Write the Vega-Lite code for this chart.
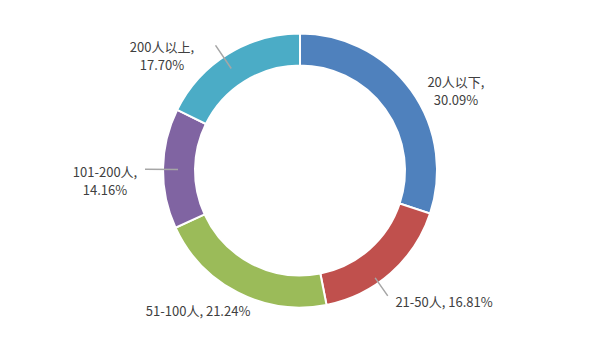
{
  "$schema": "https://vega.github.io/schema/vega-lite/v6.json",
  "width": 600,
  "height": 359,
  "autosize": {"type": "fit", "contains": "padding"},
  "padding": 0,
  "background": "white",
  "config": {"view": {"stroke": null}},
  "data": {
    "values": [
      {"idx": 1, "cat": "20人以下", "pct": 30.09, "label": "20人以下,\n30.09%"},
      {"idx": 2, "cat": "21-50人", "pct": 16.81, "label": "21-50人, 16.81%"},
      {"idx": 3, "cat": "51-100人", "pct": 21.24, "label": "51-100人, 21.24%"},
      {"idx": 4, "cat": "101-200人", "pct": 14.16, "label": "101-200人,\n14.16%"},
      {"idx": 5, "cat": "200人以上", "pct": 17.70, "label": "200人以上,\n17.70%"}
    ]
  },
  "encoding": {
    "theta": {"field": "pct", "type": "quantitative", "stack": true},
    "order": {"field": "idx", "type": "quantitative"},
    "detail": {"field": "cat", "type": "nominal"}
  },
  "layer": [
    {
      "mark": {"type": "arc", "innerRadius": 105, "outerRadius": 137, "stroke": "white", "strokeWidth": 2},
      "encoding": {
        "color": {
          "field": "cat", "type": "nominal", "legend": null,
          "scale": {
            "domain": ["20人以下", "21-50人", "51-100人", "101-200人", "200人以上"],
            "range": ["#4F81BD", "#C0504D", "#9BBB59", "#8064A2", "#4BACC6"]
          }
        }
      }
    },
    {
      "transform": [{"stack": "pct", "groupby": [], "sort": [{"field": "idx", "order": "ascending"}], "as": ["s0", "s1"]}],
      "mark": {"type": "arc", "innerRadius": 122, "outerRadius": 155, "fill": null, "stroke": "#A6A6A6", "strokeWidth": 1.5, "thetaOffset": -0.44995, "theta2Offset": -0.44995},
      "encoding": {
        "theta": {"field": "s1", "type": "quantitative"},
        "theta2": {"field": "s1"},
        "opacity": {"condition": {"test": "datum.cat === '101-200人'", "value": 1}, "value": 0}
      }
    },
    {
      "transform": [{"stack": "pct", "groupby": [], "sort": [{"field": "idx", "order": "ascending"}], "as": ["s0", "s1"]}],
      "mark": {"type": "arc", "innerRadius": 123, "outerRadius": 151, "fill": null, "stroke": "#A6A6A6", "strokeWidth": 1.5, "thetaOffset": -0.59341, "theta2Offset": -0.59341},
      "encoding": {
        "theta": {"field": "s1", "type": "quantitative"},
        "theta2": {"field": "s1"},
        "opacity": {"condition": {"test": "datum.cat === '200人以上'", "value": 1}, "value": 0}
      }
    },
    {
      "transform": [{"stack": "pct", "groupby": [], "sort": [{"field": "idx", "order": "ascending"}], "as": ["s0", "s1"]}],
      "mark": {"type": "arc", "innerRadius": 131, "outerRadius": 153, "fill": null, "stroke": "#A6A6A6", "strokeWidth": 1.5, "thetaOffset": -0.41609, "theta2Offset": -0.41609},
      "encoding": {
        "theta": {"field": "s1", "type": "quantitative"},
        "theta2": {"field": "s1"},
        "opacity": {"condition": {"test": "datum.cat === '21-50人'", "value": 1}, "value": 0}
      }
    },
    {
      "mark": {"type": "text", "radius": 180, "dx": 10, "dy": 18, "font": "Noto Sans CJK SC", "fontSize": 13, "fill": "#404040", "lineBreak": "\n", "lineHeight": 18, "align": "center", "baseline": "middle"},
      "encoding": {"text": {"condition": {"test": "datum.cat === '20人以下'", "field": "label"}, "value": ""}}
    },
    {
      "mark": {"type": "text", "radius": 180, "dx": 25, "dy": -2, "font": "Noto Sans CJK SC", "fontSize": 13, "fill": "#404040", "lineBreak": "\n", "lineHeight": 18, "align": "center", "baseline": "middle"},
      "encoding": {"text": {"condition": {"test": "datum.cat === '21-50人'", "field": "label"}, "value": ""}}
    },
    {
      "mark": {"type": "text", "radius": 180, "dx": -20, "dy": -19, "font": "Noto Sans CJK SC", "fontSize": 13, "fill": "#404040", "lineBreak": "\n", "lineHeight": 18, "align": "center", "baseline": "middle"},
      "encoding": {"text": {"condition": {"test": "datum.cat === '51-100人'", "field": "label"}, "value": ""}}
    },
    {
      "mark": {"type": "text", "radius": 180, "dx": -15, "dy": 5, "font": "Noto Sans CJK SC", "fontSize": 13, "fill": "#404040", "lineBreak": "\n", "lineHeight": 18, "align": "center", "baseline": "middle"},
      "encoding": {"text": {"condition": {"test": "datum.cat === '101-200人'", "field": "label"}, "value": ""}}
    },
    {
      "mark": {"type": "text", "radius": 180, "dx": -43, "dy": 30, "font": "Noto Sans CJK SC", "fontSize": 13, "fill": "#404040", "lineBreak": "\n", "lineHeight": 18, "align": "center", "baseline": "middle"},
      "encoding": {"text": {"condition": {"test": "datum.cat === '200人以上'", "field": "label"}, "value": ""}}
    }
  ]
}
